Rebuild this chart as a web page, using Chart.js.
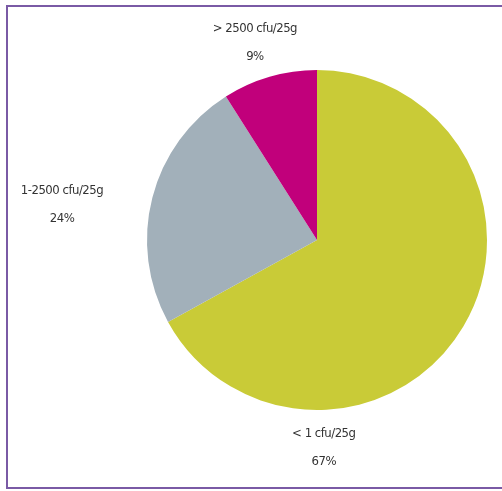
<!DOCTYPE html>
<html>
<head>
<meta charset="utf-8">
<script src="https://cdn.jsdelivr.net/npm/chart.js@4.4.1/dist/chart.umd.min.js"></script>
<style>
  html, body { margin: 0; padding: 0; background: #ffffff; }
  #wrap { position: relative; width: 502px; height: 491px; }
</style>
</head>
<body>
<div id="wrap"><canvas id="pieChart" width="502" height="491"></canvas></div>
<script>
const categories = ['< 1 cfu/25g', '1-2500 cfu/25g', '> 2500 cfu/25g'];
const shares = [67, 24, 9];
const sliceColors = ['#C9CB37', '#A2B0BA', '#C1007B'];
// label block offsets from the pie centre, in units of the radius
const labelOffsets = [[0.04, 1.22], [-1.5, -0.21], [-0.365, -1.16]];

const labelPlugin = {
  id: 'outerLabels',
  afterDraw(chart) {
    const ctx = chart.ctx;
    const arcs = chart.getDatasetMeta(0).data;
    ctx.save();
    ctx.font = '13px "Liberation Sans Narrow", "DejaVu Sans Condensed", sans-serif';
    ctx.letterSpacing = '-0.5px';
    ctx.fillStyle = '#333333';
    ctx.textAlign = 'center';
    ctx.textBaseline = 'middle';
    arcs.forEach((arc, i) => {
      const r = arc.outerRadius;
      const x = arc.x + labelOffsets[i][0] * r;
      const y = arc.y + labelOffsets[i][1] * r;
      ctx.fillText(categories[i], x, y - 14);
      ctx.fillText(shares[i] + '%', x, y + 14);
    });
    // frame
    ctx.strokeStyle = '#7A5AA5';
    ctx.lineWidth = 2;
    ctx.beginPath();
    ctx.moveTo(510, 6);
    ctx.lineTo(7, 6);
    ctx.lineTo(7, 488);
    ctx.lineTo(510, 488);
    ctx.stroke();
    ctx.restore();
  }
};

new Chart(document.getElementById('pieChart').getContext('2d'), {
  type: 'pie',
  data: {
    labels: categories,
    datasets: [{
      data: shares,
      backgroundColor: sliceColors,
      borderWidth: 0
    }]
  },
  options: {
    responsive: false,
    animation: false,
    layout: { padding: { left: 147, right: 15, top: 70, bottom: 81 } },
    plugins: {
      legend: { display: false },
      tooltip: { enabled: false }
    }
  },
  plugins: [labelPlugin]
});
</script>
</body>
</html>
